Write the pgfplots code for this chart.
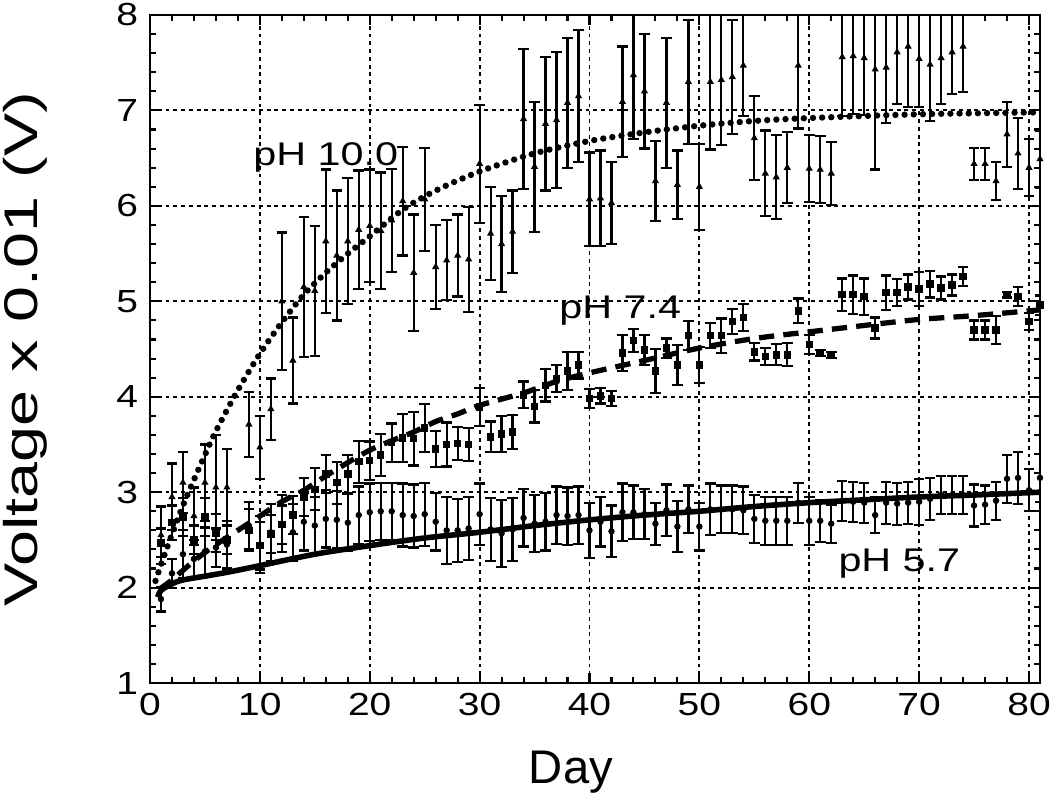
\documentclass[border=0pt]{standalone}
\usepackage{fontspec}
\setmainfont{Liberation Sans}
\usepackage{pgfplots}
\usepackage{pgfplotstable}
\pgfplotsset{compat=1.18}

\pgfplotstableread{
d v e
1 2.55 0.30
2 2.95 0.35
3 3.10 0.32
4 2.75 0.30
5 3.10 0.40
6 3.05 0.55
7 3.05 0.40
9 3.71 0.34
10 3.47 0.33
11 3.87 0.32
12 5.00 0.72
13 4.38 0.45
14 5.15 0.73
15 5.11 0.68
16 5.63 0.75
17 5.48 0.68
18 5.63 0.66
19 5.75 0.62
20 5.79 0.59
21 5.74 0.61
22 5.85 0.54
23 6.05 0.57
24 5.30 0.61
25 6.07 0.54
26 5.36 0.44
27 5.43 0.42
28 5.48 0.43
29 5.44 0.55
30 6.44 0.62
31 5.71 0.49
32 5.60 0.50
33 5.73 0.43
34 6.91 0.73
35 6.41 0.68
36 6.86 0.70
37 6.90 0.71
38 7.08 0.68
39 7.15 0.69
40 6.07 0.49
41 6.08 0.50
42 6.03 0.43
43 7.09 0.58
44 7.37 0.67
45 7.20 0.60
46 6.26 0.42
47 7.08 0.68
48 6.22 0.36
49 7.30 0.65
50 6.20 0.45
51 7.30 0.71
52 7.32 0.68
53 7.35 0.60
54 7.47 0.53
55 6.71 0.44
56 6.34 0.45
57 6.30 0.44
58 6.40 0.37
59 7.47 0.66
60 6.39 0.35
61 6.38 0.35
62 6.34 0.33
63 7.56 0.62
64 7.57 0.61
65 7.55 0.60
66 7.43 1.05
67 7.45 0.58
68 7.61 0.54
69 7.67 0.63
70 7.54 0.50
71 7.48 0.59
72 7.55 0.48
73 7.61 0.44
74 7.67 0.48
75 6.44 0.17
76 6.44 0.17
77 6.26 0.20
78 6.75 0.34
79 6.55 0.37
80 6.40 0.30
81 6.49 0.30
}\phten

\pgfplotstableread{
d v e
1 2.47 0.15
2 2.68 0.18
3 2.74 0.20
4 2.50 0.15
5 2.74 0.20
6 2.57 0.20
7 2.50 0.15
9 2.60 0.22
10 2.44 0.25
11 2.56 0.20
12 2.66 0.20
13 2.76 0.20
14 2.95 0.20
15 3.03 0.22
16 3.19 0.20
17 3.10 0.22
18 3.19 0.20
19 3.32 0.22
20 3.33 0.20
21 3.39 0.22
22 3.52 0.20
23 3.57 0.25
24 3.56 0.28
25 3.67 0.25
26 3.45 0.19
27 3.50 0.23
28 3.51 0.17
29 3.50 0.17
30 3.89 0.20
31 3.58 0.16
32 3.61 0.19
33 3.63 0.18
34 4.02 0.14
35 3.90 0.17
36 4.12 0.17
37 4.19 0.14
38 4.27 0.20
39 4.33 0.14
40 3.98 0.10
41 4.01 0.08
42 3.98 0.08
43 4.46 0.19
44 4.59 0.12
45 4.49 0.16
46 4.27 0.23
47 4.51 0.10
48 4.33 0.21
49 4.64 0.15
50 4.33 0.19
51 4.64 0.13
52 4.64 0.18
53 4.79 0.13
54 4.83 0.14
55 4.47 0.09
56 4.42 0.09
57 4.44 0.11
58 4.44 0.12
59 4.90 0.13
60 4.55 0.10
61 4.46 0.03
62 4.44 0.03
63 5.07 0.17
64 5.07 0.20
65 5.05 0.19
66 4.72 0.11
67 5.09 0.18
68 5.09 0.14
69 5.15 0.13
70 5.13 0.18
71 5.18 0.14
72 5.14 0.12
73 5.17 0.11
74 5.26 0.10
75 4.70 0.10
76 4.70 0.10
77 4.70 0.15
78 5.07 0.03
79 5.05 0.10
80 4.79 0.09
81 4.96 0.10
}\phseven

\pgfplotstableread{
d v e
1 1.88 0.13
2 2.15 0.15
3 2.35 0.25
4 2.30 0.20
5 2.38 0.25
6 2.42 0.20
7 2.45 0.25
9 2.65 0.25
10 2.45 0.30
11 2.58 0.30
12 2.67 0.30
13 2.58 0.30
14 2.69 0.30
15 2.65 0.30
16 2.72 0.30
17 2.71 0.30
18 2.68 0.30
19 2.76 0.30
20 2.79 0.30
21 2.80 0.30
22 2.80 0.30
23 2.76 0.33
24 2.75 0.33
25 2.77 0.33
26 2.69 0.30
27 2.60 0.35
28 2.60 0.33
29 2.62 0.33
30 2.77 0.32
31 2.61 0.33
32 2.57 0.35
33 2.61 0.33
34 2.73 0.30
35 2.67 0.30
36 2.69 0.30
37 2.76 0.30
38 2.75 0.30
39 2.76 0.30
40 2.60 0.29
41 2.69 0.26
42 2.59 0.27
43 2.79 0.30
44 2.79 0.28
45 2.77 0.26
46 2.67 0.22
47 2.81 0.27
48 2.64 0.27
49 2.82 0.25
50 2.64 0.25
51 2.82 0.27
52 2.82 0.25
53 2.82 0.25
54 2.81 0.25
55 2.72 0.25
56 2.70 0.25
57 2.70 0.25
58 2.70 0.25
59 2.89 0.21
60 2.70 0.25
61 2.70 0.22
62 2.67 0.20
63 2.91 0.21
64 2.90 0.21
65 2.89 0.21
66 2.76 0.19
67 2.89 0.22
68 2.88 0.22
69 2.89 0.22
70 2.90 0.24
71 2.93 0.22
72 2.97 0.20
73 2.97 0.20
74 2.97 0.20
75 2.86 0.22
76 2.87 0.20
77 2.91 0.20
78 3.14 0.25
79 3.15 0.27
80 3.02 0.22
81 3.15 0.25
}\phfive

\begin{document}
\begin{tikzpicture}
\path[use as bounding box] (-54pt,-42.8pt) rectangle (324pt,245.9pt);
\begin{axis}[
  at={(0,0)}, anchor=south west,
  scale only axis, width=320.4pt, height=240.5pt,
  xmin=0, xmax=81, ymin=1, ymax=8,
  xtick={0,10,...,80}, ytick={1,2,...,8},
  minor x tick num=4, minor y tick num=4,
  tick align=inside,
  major tick length=3.6pt, minor tick length=2.2pt,
  every tick/.style={black, line width=0.75pt},
  grid=major,
  major grid style={black, line width=0.7pt, dash pattern=on 1.4pt off 1.4pt},
  axis line style={line width=1pt},
  /pgf/number format/assume math mode=true,
  tick label style={font=\fontsize{11.5}{13}\selectfont, xscale=1.22},
  xlabel={Day},
  xlabel style={at={(axis description cs:0.473,0)}, anchor=base, yshift=-36pt, font=\fontsize{17}{19}\selectfont},
  ylabel={Voltage x 0.01 (V)},
  ylabel style={at={(axis description cs:-0.14,0.5)}, anchor=center, font=\fontsize{17}{19}\selectfont, xscale=1.37},
]
% pH 10.0 data
\addplot[black, only marks, mark=triangle*, mark size=1.1pt,
  error bars/.cd, y dir=both, y explicit,
  error bar style={line width=0.8pt},
  error mark options={rotate=90, mark size=1.9pt, line width=0.8pt}]
  table[x=d, y=v, y error=e]{\phten};
% pH 7.4 data
\addplot[black, only marks, mark=square*, mark size=1.15pt,
  error bars/.cd, y dir=both, y explicit,
  error bar style={line width=0.8pt},
  error mark options={rotate=90, mark size=1.9pt, line width=0.8pt}]
  table[x=d, y=v, y error=e]{\phseven};
% pH 5.7 data
\addplot[black, only marks, mark=*, mark size=0.95pt,
  error bars/.cd, y dir=both, y explicit,
  error bar style={line width=0.8pt},
  error mark options={rotate=90, mark size=1.9pt, line width=0.8pt}]
  table[x=d, y=v, y error=e]{\phfive};
% fitted curves
\addplot[black, line width=2.3pt, line cap=round, dash pattern=on 0pt off 3.3pt, smooth]
  coordinates {(0.5,2.07) (1,2.24) (2,2.56) (3,2.86) (4,3.13) (5,3.39) (6,3.64) (8,4.07) (10,4.45) (12,4.78) (14,5.07) (16,5.30) (18,5.50) (20,5.68) (23,5.96) (26,6.16) (30,6.36) (35,6.55) (40,6.68) (45,6.77) (50,6.84) (55,6.89) (60,6.92) (70,6.96) (81,6.98)};
\addplot[black, line width=1.9pt, dash pattern=on 5.5pt off 3.3pt, smooth]
  coordinates {(0.8,1.98) (2,2.08) (4,2.28) (6,2.45) (8,2.60) (10,2.75) (12,2.90) (14,3.02) (16,3.17) (18,3.31) (20,3.44) (22,3.54) (24,3.63) (26,3.74) (28,3.82) (30,3.91) (34,4.04) (37,4.16) (40,4.25) (45,4.38) (50,4.51) (55,4.61) (60,4.68) (66,4.76) (70,4.81) (75,4.85) (81,4.91)};
\addplot[black, line width=2pt, smooth]
  coordinates {(0.7,1.90) (1,1.97) (2,2.04) (3,2.08) (5,2.12) (7,2.16) (10,2.23) (15,2.35) (20,2.44) (25,2.52) (30,2.58) (35,2.65) (40,2.71) (45,2.76) (50,2.80) (55,2.85) (60,2.89) (65,2.92) (70,2.95) (75,2.97) (81,3.00)};
\node[font=\fontsize{11.8}{13}\selectfont, xscale=1.26, anchor=base] at (axis cs:16,6.42) {pH 10.0};
\node[font=\fontsize{11.8}{13}\selectfont, xscale=1.26, anchor=base] at (axis cs:42.8,4.82) {pH 7.4};
\node[font=\fontsize{11.8}{13}\selectfont, xscale=1.26, anchor=base] at (axis cs:68.2,2.17) {pH 5.7};
\end{axis}
\end{tikzpicture}
\end{document}
